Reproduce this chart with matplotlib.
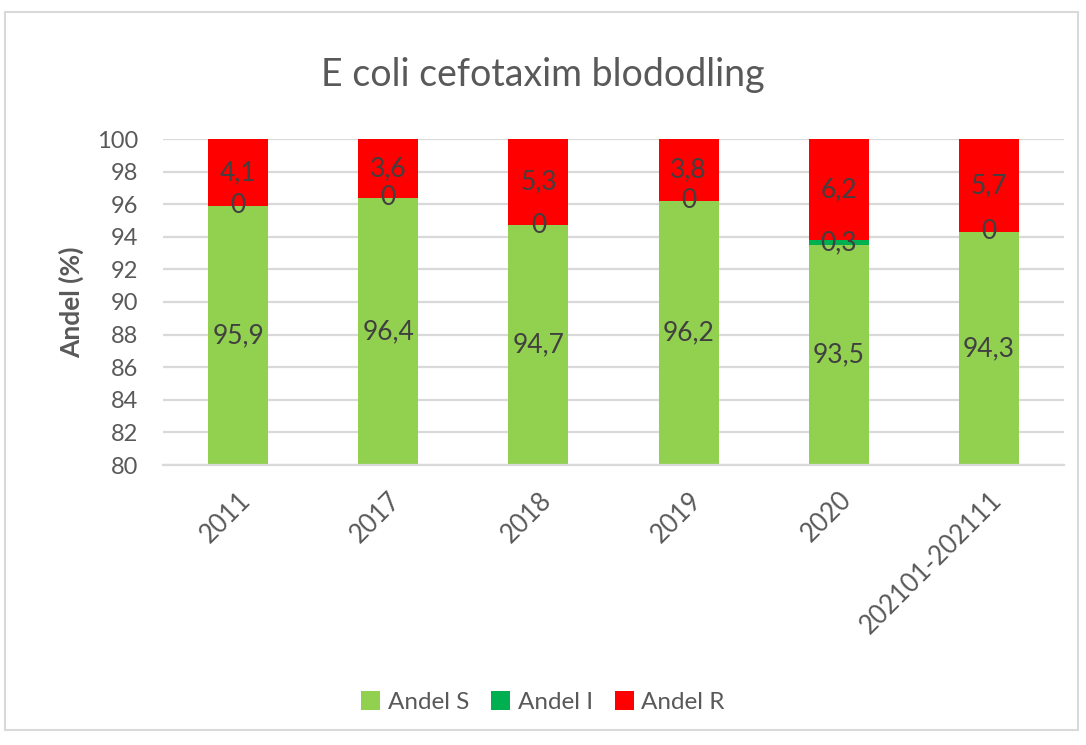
import matplotlib.pyplot as plt
import numpy as np
from matplotlib.patches import Rectangle

# Data
categories = ["2011", "2017", "2018", "2019", "2020", "202101-202111"]
andel_s = [95.9, 96.4, 94.7, 96.2, 93.5, 94.3]
andel_i = [0, 0, 0, 0, 0.3, 0]
andel_r = [4.1, 3.6, 5.3, 3.8, 6.2, 5.7]

c_s = "#92D050"
c_i = "#00B050"
c_r = "#FF0000"
txt = "#595959"
lab = "#404040"

plt.rcParams["font.family"] = ["Lato", "DejaVu Sans"]

fig = plt.figure(figsize=(10.86, 7.45), dpi=100)
ax = fig.add_axes([163 / 1086, 1 - 465 / 745, (1064 - 163) / 1086, (465 - 139) / 745])

x = np.arange(len(categories))
s = np.array(andel_s)
i_ = np.array(andel_i)
r = np.array(andel_r)

ax.bar(x, s, width=0.4, color=c_s, label="Andel S", zorder=2)
ax.bar(x, i_, width=0.4, bottom=s, color=c_i, label="Andel I", zorder=2)
ax.bar(x, r, width=0.4, bottom=s + i_, color=c_r, label="Andel R", zorder=2)

ymin = 80
ax.set_ylim(80, 100)
ax.set_xlim(-0.5, len(categories) - 0.5)
ax.set_yticks(range(80, 101, 2))
ax.yaxis.grid(True, color="#D9D9D9", linewidth=1.6, zorder=0)
ax.set_axisbelow(True)
for sp in ["top", "right", "left"]:
    ax.spines[sp].set_visible(False)
ax.spines["bottom"].set_color("#D9D9D9")
ax.spines["bottom"].set_linewidth(1.6)
ax.tick_params(axis="both", length=0, labelsize=17, labelcolor=txt)
ax.tick_params(axis="y", pad=18)
ax.set_xticks(x)
ax.set_xticklabels(categories, rotation=45, ha="right", rotation_mode="anchor")
ax.tick_params(axis="x", labelsize=18.5, pad=16)

# data labels
def fmt(v):
    return ("%g" % v).replace(".", ",")

for k in range(len(categories)):
    ax.text(x[k], (ymin + s[k]) / 2, fmt(s[k]), ha="center", va="center",
            fontsize=19, color=lab, zorder=3)
    ax.text(x[k], s[k] + i_[k] / 2, fmt(i_[k]), ha="center", va="center",
            fontsize=19, color=lab, zorder=3)
    ax.text(x[k], s[k] + i_[k] + r[k] / 2, fmt(r[k]), ha="center", va="center",
            fontsize=19, color=lab, zorder=3)

ax.set_ylabel("Andel (%)", fontsize=19, color=txt, fontweight="bold", labelpad=9)

fig.text(0.5, 1 - 75 / 745, "E coli cefotaxim blododling", ha="center", va="center",
         fontsize=27, color=txt)

fig.legend(loc="center", bbox_to_anchor=(0.5, 1 - 702 / 745), ncol=3, frameon=False,
           fontsize=17.5, labelcolor=txt, handlelength=0.8, handleheight=0.8,
           handletextpad=0.3, columnspacing=0.9)

# chart border
fig.patches.append(Rectangle((5 / 1086, 1 - 730 / 745), 1073 / 1086, 718 / 745,
                             transform=fig.transFigure, fill=False,
                             edgecolor="#D9D9D9", linewidth=1.5))

plt.savefig("out.png", dpi=100)
plt.close()
